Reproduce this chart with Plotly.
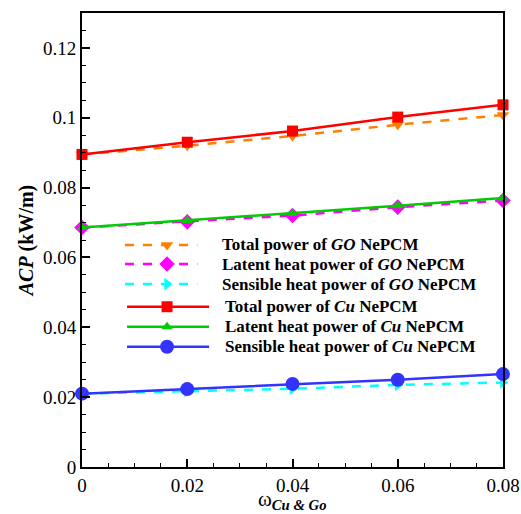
import plotly.graph_objects as go

omega = [0, 0.02, 0.04, 0.06, 0.08]
total_go = [0.0895, 0.0920, 0.0948, 0.0980, 0.1008]
latent_go = [0.0686, 0.0702, 0.0720, 0.0744, 0.0763]
sensible_go = [0.0210, 0.0217, 0.0224, 0.0235, 0.0242]
total_cu = [0.0895, 0.0930, 0.0962, 0.1002, 0.1037]
latent_cu = [0.0686, 0.0706, 0.0726, 0.0748, 0.0770]
sensible_cu = [0.0210, 0.0223, 0.0238, 0.0250, 0.0266]

series_names = [
    "Total power of <i>GO</i> NePCM",
    "Latent heat power of <i>GO</i> NePCM",
    "Sensible heat power of <i>GO</i> NePCM",
    "Total power of <i>Cu</i> NePCM",
    "Latent heat power of <i>Cu</i> NePCM",
    "Sensible heat power of <i>Cu</i> NePCM",
]
series_values = [total_go, latent_go, sensible_go, total_cu, latent_cu, sensible_cu]
colors = ["#FF8000", "#FF00FF", "#00FFFF", "#FF0000", "#00CC00", "#3333FF"]
dashes = ["dash", "dash", "dash", "solid", "solid", "solid"]
symbols = ["triangle-down", "diamond", "triangle-right", "square", "triangle-up", "circle"]
sizes = [11, 12, 11, 11, 10, 14]

# legend layout (fractions of the plot area)
leg_y = [0.489, 0.447, 0.403, 0.353, 0.309, 0.265]
leg_x0 = [0.102, 0.102, 0.102, 0.107, 0.107, 0.107]
leg_x1 = [0.274, 0.274, 0.274, 0.302, 0.302, 0.302]
leg_xm = 0.202
leg_tx = [0.331, 0.331, 0.331, 0.338, 0.338, 0.338]

serif = "Liberation Serif, Times New Roman, serif"

fig = go.Figure()
for name, vals, color, dash, sym, size in zip(series_names, series_values, colors, dashes, symbols, sizes):
    fig.add_trace(go.Scatter(
        x=omega, y=vals, name=name, mode="lines+markers",
        line=dict(color=color, width=2.5, dash=dash),
        marker=dict(symbol=sym, size=size, color=color),
        cliponaxis=False, showlegend=False,
    ))

annotations = []
for i in range(6):
    fig.add_trace(go.Scatter(
        x=[leg_x0[i], leg_x1[i]], y=[leg_y[i], leg_y[i]], mode="lines",
        line=dict(color=colors[i], width=2.5, dash=dashes[i]),
        xaxis="x2", yaxis="y2", showlegend=False, hoverinfo="skip",
    ))
    fig.add_trace(go.Scatter(
        x=[leg_xm], y=[leg_y[i]], mode="markers",
        marker=dict(symbol=symbols[i], size=sizes[i], color=colors[i]),
        xaxis="x2", yaxis="y2", showlegend=False, hoverinfo="skip",
    ))
    annotations.append(dict(
        x=leg_tx[i], y=leg_y[i], xref="paper", yref="paper",
        xanchor="left", yanchor="middle", showarrow=False, borderpad=0,
        text="<b>" + series_names[i] + "</b>",
        font=dict(family=serif, size=17, color="black"),
    ))

annotations.append(dict(
    x=0.5, y=-0.072, xref="paper", yref="paper", xanchor="center", yanchor="middle",
    showarrow=False, text="ω<sub><b><i>Cu & Go</i></b></sub>",
    font=dict(family=serif, size=21, color="black"),
))

axis_font = dict(family=serif, size=19, color="black")
fig.update_layout(
    width=521, height=514,
    margin=dict(l=82, r=18, t=13, b=47),
    plot_bgcolor="white", paper_bgcolor="white",
    font=dict(family=serif, color="black"),
    showlegend=False,
    annotations=annotations,
    xaxis=dict(
        range=[0, 0.08], tickvals=[0, 0.02, 0.04, 0.06, 0.08],
        ticktext=["0", "0.02", "0.04", "0.06", "0.08"],
        ticks="inside", ticklen=8, tickwidth=2, tickcolor="black",
        minor=dict(dtick=0.005, ticks="inside", ticklen=4, tickwidth=1, tickcolor="black"),
        showline=True, linecolor="black", linewidth=2, mirror=True,
        showgrid=False, zeroline=False, tickfont=axis_font, automargin=False,
    ),
    yaxis=dict(
        range=[0, 0.13], tickvals=[0, 0.02, 0.04, 0.06, 0.08, 0.1, 0.12],
        ticktext=["0", "0.02", "0.04", "0.06", "0.08", "0.1", "0.12"],
        ticks="inside", ticklen=8, tickwidth=2, tickcolor="black",
        minor=dict(dtick=0.005, ticks="inside", ticklen=4, tickwidth=1, tickcolor="black"),
        showline=True, linecolor="black", linewidth=2, mirror=True,
        showgrid=False, zeroline=False, tickfont=axis_font, automargin=False,
        title=dict(text="<b><i>ACP</i> (kW/m)</b>", font=dict(family=serif, size=20, color="black"), standoff=4),
    ),
    xaxis2=dict(overlaying="x", range=[0, 1], visible=False, fixedrange=True),
    yaxis2=dict(overlaying="y", range=[0, 1], visible=False, fixedrange=True),
)

fig.write_html("out.html", config={"displayModeBar": False},
               post_script="document.body.style.margin='0px';")
